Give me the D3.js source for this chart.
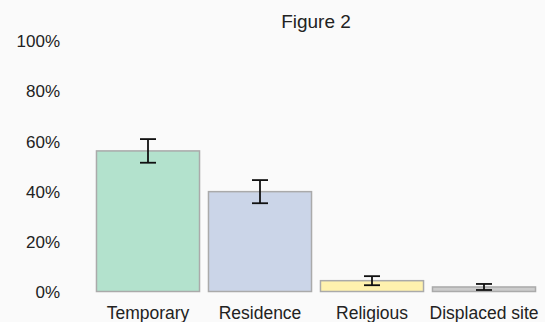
<!DOCTYPE html>
<html>
<head>
<meta charset="utf-8">
<script src="https://cdn.jsdelivr.net/npm/d3@7"></script>
<style>
  html, body { margin: 0; padding: 0; background: #fafafa; }
  svg { display: block; font-family: "Liberation Sans", Arial, sans-serif; }
</style>
</head>
<body>
<svg id="chart" width="545" height="322"></svg>
<script>
// Share of respondents by location type, with error margins
const categories = ["Temporary", "Residence", "Religious", "Displaced site"];
const shares = [0.559, 0.397, 0.043, 0.018];
const errors = [0.047, 0.046, 0.018, 0.012];
const colors = ["#b3e2cd", "#cbd5e8", "#fff2ae", "#cccccc"];
const yTicks = [0, 0.2, 0.4, 0.6, 0.8, 1.0];
const title = "Figure 2";

(function () {
  const svg = d3.select("#chart");
  const W = 545, H = 322;
  const plotLeft = 92, plotRight = 540, plotTop = 40, plotBottom = 291.5;

  const x = d3.scaleBand()
    .domain(categories)
    .range([plotLeft, plotRight])
    .paddingInner(0.08)
    .paddingOuter(0.04);

  const y = d3.scaleLinear().domain([0, 1]).range([plotBottom, plotTop]);

  svg.append("rect").attr("width", W).attr("height", H).attr("fill", "#fafafa");

  // Title
  svg.append("text")
    .attr("x", (plotLeft + plotRight) / 2)
    .attr("y", 28)
    .attr("text-anchor", "middle")
    .attr("font-size", 19)
    .attr("fill", "#222")
    .text(title);

  // Y axis labels (no axis line)
  const yAxis = d3.axisLeft(y)
    .tickValues(yTicks)
    .tickFormat(d3.format(".0%"))
    .tickSize(0)
    .tickPadding(0);
  const gy = svg.append("g").attr("transform", "translate(60,1)").call(yAxis);
  gy.select(".domain").remove();
  gy.selectAll("text").attr("font-size", 17).attr("fill", "#222")
    .attr("font-family", "Liberation Sans, Arial, sans-serif");

  // X axis labels
  const xAxis = d3.axisBottom(x).tickSize(0).tickPadding(0);
  const gx = svg.append("g").attr("transform", "translate(0,307)").call(xAxis);
  gx.select(".domain").remove();
  gx.selectAll("text").attr("font-size", 17.5).attr("fill", "#222")
    .attr("font-family", "Liberation Sans, Arial, sans-serif");

  const data = categories.map((c, i) => ({ c, v: shares[i], e: errors[i], col: colors[i] }));

  // Bars
  svg.append("g").selectAll("rect")
    .data(data)
    .join("rect")
    .attr("x", d => x(d.c))
    .attr("y", d => y(d.v))
    .attr("width", x.bandwidth())
    .attr("height", d => y(0) - y(d.v))
    .attr("fill", d => d.col)
    .attr("stroke", "#aaaaaa")
    .attr("stroke-width", 1.5);

  // Error bars
  const eb = svg.append("g").attr("stroke", "#111").attr("stroke-width", 1.8);
  const capW = 8;
  data.forEach(d => {
    const cx = x(d.c) + x.bandwidth() / 2;
    eb.append("line").attr("x1", cx).attr("x2", cx)
      .attr("y1", y(d.v + d.e)).attr("y2", y(d.v - d.e));
    [d.v + d.e, d.v - d.e].forEach(v => {
      eb.append("line").attr("x1", cx - capW).attr("x2", cx + capW)
        .attr("y1", y(v)).attr("y2", y(v));
    });
  });
})();
</script>
</body>
</html>
